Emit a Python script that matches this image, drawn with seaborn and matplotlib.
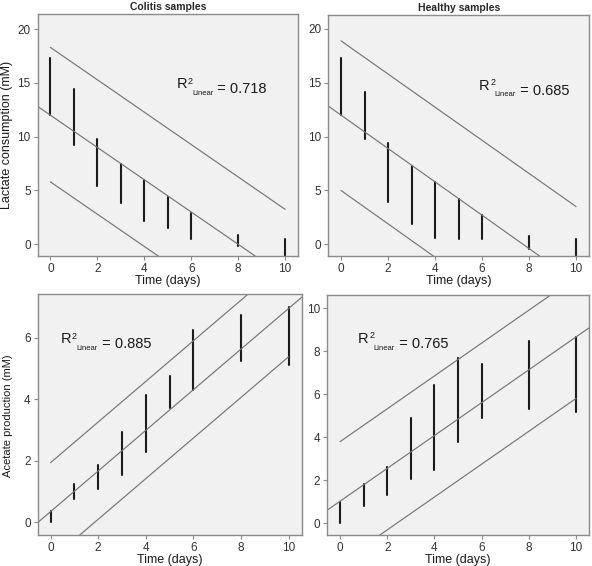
import matplotlib
matplotlib.use("Agg")
import matplotlib.pyplot as plt
import pandas as pd
import seaborn as sns

# Time points (days)
days = [0, 1, 2, 3, 4, 5, 6, 8, 10]

# Lactate consumption ranges (mM)
colitis_lac_low = [12.0, 9.2, 5.4, 3.8, 2.2, 1.5, 0.5, -0.2, -1.2]
colitis_lac_high = [17.3, 14.4, 9.8, 7.5, 6.0, 4.4, 2.9, 0.9, 0.5]
healthy_lac_low = [12.0, 9.8, 3.9, 1.9, 0.6, 0.5, 0.5, -0.4, -1.2]
healthy_lac_high = [17.3, 14.1, 9.4, 7.3, 5.8, 4.2, 2.7, 0.8, 0.5]

# Acetate production ranges (mM)
colitis_ace_low = [0.0, 0.75, 1.1, 1.55, 2.3, 3.7, 4.3, 5.25, 5.1]
colitis_ace_high = [0.37, 1.25, 1.85, 2.95, 4.15, 4.75, 6.25, 6.75, 7.0]
healthy_ace_low = [0.0, 0.8, 1.3, 2.05, 2.5, 3.8, 4.9, 5.3, 5.2]
healthy_ace_high = [1.0, 1.85, 2.6, 4.9, 6.45, 7.7, 7.4, 8.5, 8.65]

# Fit line and prediction interval values at day 0 and day 10
colitis_lac_fit = [12.0, -3.0]
colitis_lac_upper = [18.3, 3.25]
colitis_lac_lower = [5.8, -9.2]
healthy_lac_fit = [12.0, -3.5]
healthy_lac_upper = [18.9, 3.5]
healthy_lac_lower = [5.0, -10.5]
colitis_ace_fit = [0.35, 6.95]
colitis_ace_upper = [1.94, 8.54]
colitis_ace_lower = [-1.22, 5.38]
healthy_ace_fit = [1.03, 8.67]
healthy_ace_upper = [3.8, 11.44]
healthy_ace_lower = [-1.83, 5.81]

r2_values = ["0.718", "0.685", "0.885", "0.765"]

sns.set_style("white", {"axes.facecolor": "#f1f1f1", "axes.edgecolor": "#8a8a8a"})
plt.rcParams["font.family"] = ["Liberation Sans", "DejaVu Sans"]

fig = plt.figure(figsize=(5.92, 5.66), dpi=100)


def px_axes(left, right, top, bottom):
    return fig.add_axes([left / 592, 1 - bottom / 566, (right - left) / 592, (bottom - top) / 566])


def r2_label(ax, pos, r2):
    t = ax.text(pos[0], pos[1], "R", transform=ax.transAxes, fontsize=10.5,
                va="baseline", ha="left", color="#1a1a1a")
    ax.annotate("2", xy=(1, 0), xycoords=t, xytext=(0.3, 5.6), textcoords="offset points",
                fontsize=6.5, va="baseline", ha="left", color="#1a1a1a")
    sub = ax.annotate("Linear", xy=(1, 0), xycoords=t, xytext=(3.4, -2.6), textcoords="offset points",
                      fontsize=5.5, va="baseline", ha="left", color="#1a1a1a")
    ax.annotate(" = " + r2, xy=(1, 0), xycoords=sub, xytext=(0, 2.6), textcoords="offset points",
                fontsize=10.5, va="baseline", ha="left", color="#1a1a1a")


def draw_panel(ax, low, high, fit, upper, lower, r2, ylim, yticks, text_pos):
    df_bars = pd.DataFrame({
        "day": days + days,
        "value": low + high,
    })
    sns.lineplot(data=df_bars, x="day", y="value", units="day", estimator=None,
                 sort=False, color="#1c1c1c", lw=1.5, ax=ax)
    ax.axline((0, fit[0]), (10, fit[1]), color="#767676", lw=0.85)
    ax.plot([0, 10], upper, color="#767676", lw=0.85)
    ax.plot([0, 10], lower, color="#767676", lw=0.85)
    ax.set_xlim(-0.54, 10.55)
    ax.set_ylim(*ylim)
    ax.set_xticks([0, 2, 4, 6, 8, 10])
    ax.set_yticks(yticks)
    ax.tick_params(axis="both", which="both", direction="out", length=3, width=0.8,
                   color="#8a8a8a", labelsize=8.5, labelcolor="#333333", pad=2,
                   bottom=True, left=True)
    for s in ax.spines.values():
        s.set_linewidth(1.0)
    ax.set_xlabel("Time (days)", fontsize=9, color="#1a1a1a", labelpad=0)
    ax.set_ylabel("")
    r2_label(ax, text_pos, r2)


ax1 = px_axes(37.7, 298, 14, 256)
ax2 = px_axes(328.3, 589, 15, 256)
ax3 = px_axes(37.7, 301.7, 294, 535)
ax4 = px_axes(327.3, 589, 295, 535)

draw_panel(ax1, colitis_lac_low, colitis_lac_high, colitis_lac_fit, colitis_lac_upper,
           colitis_lac_lower, r2_values[0], (-1.09, 21.4), [0, 5, 10, 15, 20], (0.534, 0.693))
draw_panel(ax2, healthy_lac_low, healthy_lac_high, healthy_lac_fit, healthy_lac_upper,
           healthy_lac_lower, r2_values[1], (-1.09, 21.3), [0, 5, 10, 15, 20], (0.579, 0.69))
draw_panel(ax3, colitis_ace_low, colitis_ace_high, colitis_ace_fit, colitis_ace_upper,
           colitis_ace_lower, r2_values[2], (-0.41, 7.42), [0, 2, 4, 6], (0.088, 0.795))
draw_panel(ax4, healthy_ace_low, healthy_ace_high, healthy_ace_fit, healthy_ace_upper,
           healthy_ace_lower, r2_values[3], (-0.54, 10.62), [0, 2, 4, 6, 8, 10], (0.118, 0.80))

ax1.set_title("Colitis samples", fontsize=7.5, fontweight="bold", pad=3)
ax2.set_title("Healthy samples", fontsize=7.5, fontweight="bold", pad=3)
fig.text(7 / 592, 1 - 135 / 566, "Lactate consumption (mM)", rotation=90, fontsize=9,
         ha="center", va="center", color="#1a1a1a")
fig.text(8.5 / 592, 1 - 416 / 566, "Acetate production (mM)", rotation=90, fontsize=8,
         ha="center", va="center", color="#1a1a1a")

fig.savefig("out.png", dpi=100, facecolor="white")
